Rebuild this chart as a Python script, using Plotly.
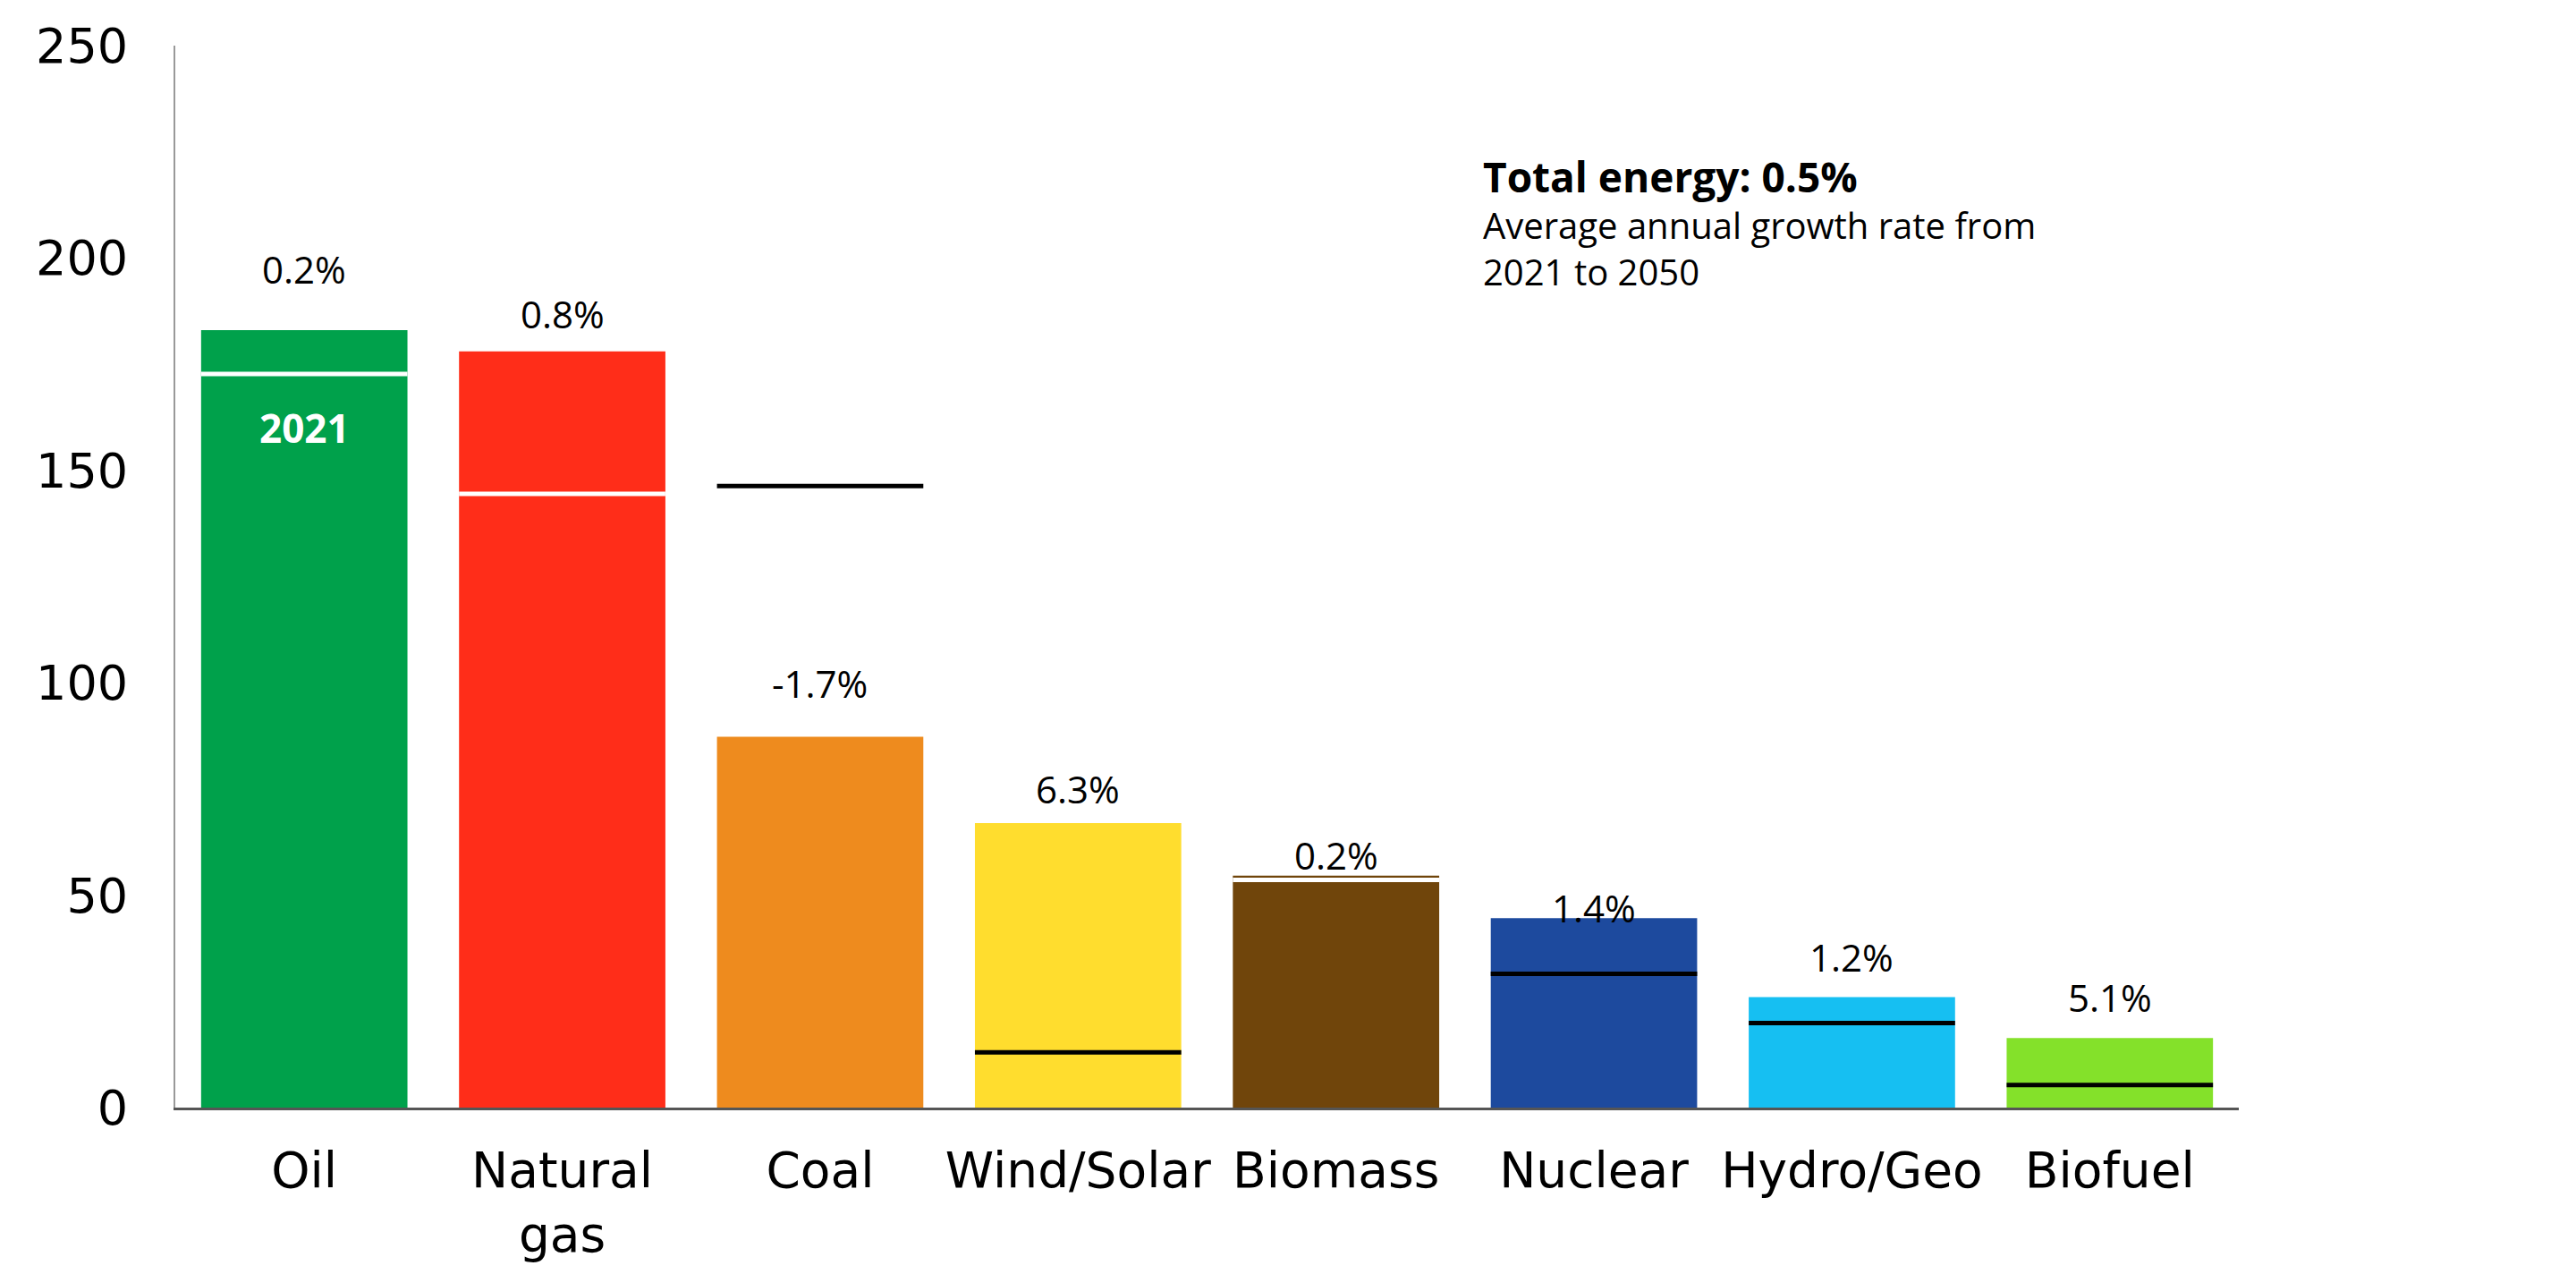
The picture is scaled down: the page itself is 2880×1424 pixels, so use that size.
import plotly.graph_objects as go

# Energy by source, 2050 (bars) vs 2021 (lines)
categories = ["Oil", "Natural<br>gas", "Coal", "Wind/Solar", "Biomass", "Nuclear", "Hydro/Geo", "Biofuel"]
values_2050 = [183, 178, 87.3, 67, 54.6, 44.6, 26, 16.4]
values_2021 = [172.7, 144.5, 146.3, 13, 53.6, 31.5, 19.9, 5.3]
growth_labels = ["0.2%", "0.8%", "-1.7%", "6.3%", "0.2%", "1.4%", "1.2%", "5.1%"]

bar_colors = ["#00A14B", "#FF2D19", "#EE8B1E", "#FFDD2E", "#70450B", "#1D4A9E", "#16BFF2", "#84E12A"]
line_colors = ["white", "white", "black", "black", "white", "black", "black", "black"]
# where the growth labels sit (data units)
label_heights = [197.5, 187, 100, 75, 59.5, 47, 35.5, 26]

fig = go.Figure()
fig.add_trace(go.Bar(
    x=categories,
    y=values_2050,
    width=0.8,
    marker=dict(color=bar_colors, line=dict(width=0)),
    hoverinfo="skip",
    showlegend=False,
))

# 2021 level markers across each bar
for i, v in enumerate(values_2021):
    fig.add_shape(
        type="line", xref="x", yref="y",
        x0=i - 0.4, x1=i + 0.4, y0=v, y1=v,
        line=dict(color=line_colors[i], width=5),
        layer="above",
    )

for cat, txt, h in zip(categories, growth_labels, label_heights):
    fig.add_annotation(
        x=cat, y=h, text=txt, showarrow=False,
        font=dict(family="Open Sans", size=42, color="black"),
        yanchor="middle",
    )

fig.add_annotation(
    x=categories[0], y=160, text="<b>2021</b>", showarrow=False,
    font=dict(family="Open Sans", size=44, color="white"),
)

# note block, top right (one text, tight line spacing)
note_text = (
    '<span style="font-size:46px"><b>Total energy: 0.5%</b></span><br>'
    'Average annual growth rate from<br>'
    '2021 to 2050'
)
fig.add_annotation(
    xref="paper", yref="paper", x=0.633, y=0.834,
    xanchor="left", yanchor="middle", align="left", showarrow=False,
    text=note_text,
    font=dict(family="Open Sans", size=40, color="black"),
)

# page body has an 8px margin, so the figure is shifted by that much
fig.update_layout(
    width=2872, height=1416,
    margin=dict(l=188, r=377, t=38, b=184),
    plot_bgcolor="white", paper_bgcolor="white",
    bargap=0.2,
    font=dict(family="DejaVu Sans", size=54, color="black"),
)
fig.update_xaxes(
    showline=True, linecolor="#555555", linewidth=3,
    showgrid=False, ticks="", range=[-0.5, 7.5],
    tickfont=dict(family="DejaVu Sans", size=55, color="black"),
    ticklabelstandoff=20,
)
fig.update_yaxes(
    range=[0, 250], tickvals=[0, 50, 100, 150, 200, 250],
    showline=True, linecolor="#999999", linewidth=2,
    showgrid=False, zeroline=False, ticks="",
    tickfont=dict(family="DejaVu Sans", size=54, color="black"),
    ticklabelstandoff=40,
)

fig.write_html("out.html")
